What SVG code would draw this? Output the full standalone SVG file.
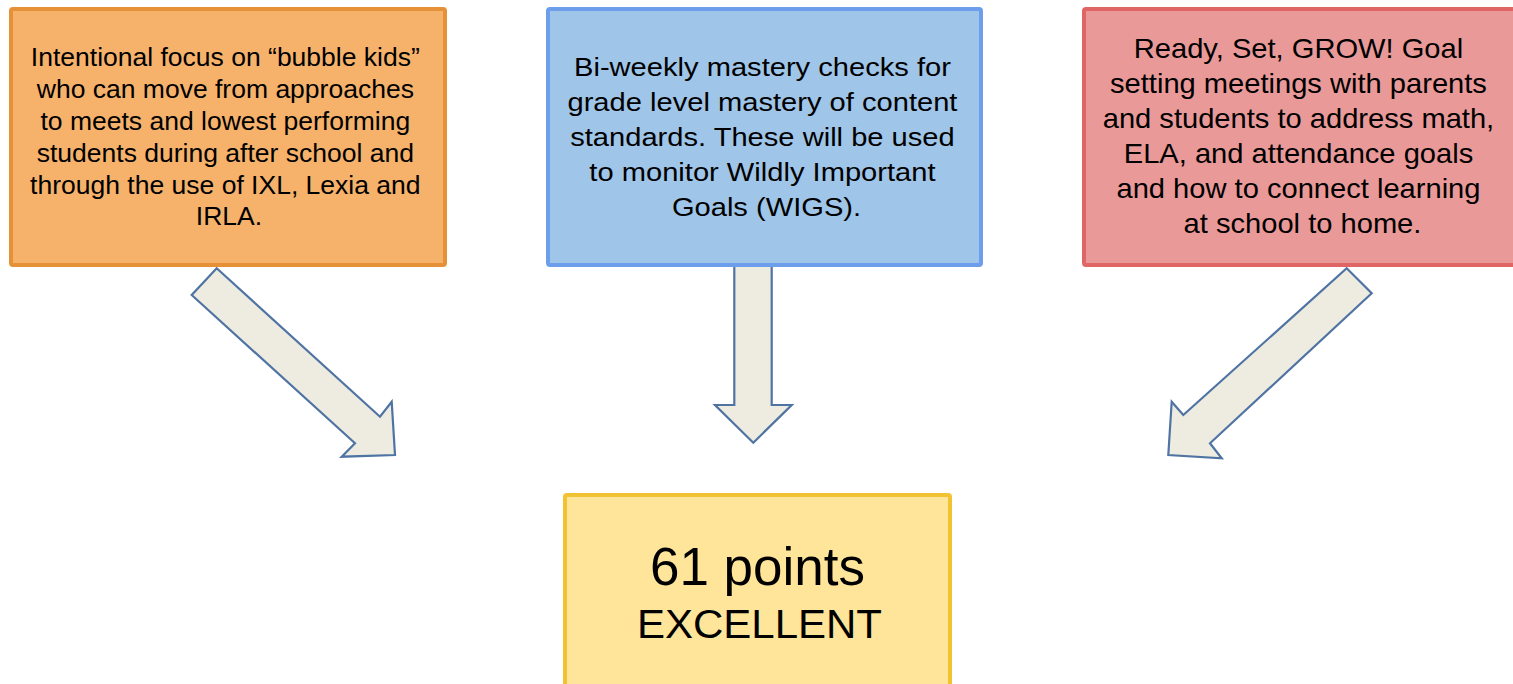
<svg xmlns="http://www.w3.org/2000/svg" width="1513" height="684" viewBox="0 0 1513 684">
<style>
.box{stroke-width:4}
.t{font-family:"Liberation Sans",Arial,sans-serif;fill:#000;text-anchor:middle}
.arrow{fill:#eeece1;stroke:#4f74a3;stroke-width:2.2;stroke-linejoin:miter}
</style>
<rect width="1513" height="684" fill="#ffffff"/>
<g id="connectors">
<polygon class="arrow" points="216.7,268.3 380,416.7 391.7,401.7 395,455 341.7,456.7 355,443.3 191.7,295"/>
<polygon class="arrow" points="734.3,266 771.7,266 771.7,405 791.7,405 753.3,442.7 715,405 734.3,405"/>
<polygon class="arrow" points="1346.7,268.3 1371.7,293.3 1210,443.3 1221.7,458.3 1168.3,455 1171.7,401.7 1183.3,415"/>
</g>
<g id="box1">
<rect class="box" x="11" y="9" width="434" height="256" rx="2" fill="#f6b26b" stroke="#e69138"/>
<g transform="translate(229,0) scale(1.04,1)">
<text class="t" font-size="25.5">
<tspan x="0" y="66.5">Intentional focus on “bubble kids”</tspan>
<tspan x="0" y="98.3">who can move from approaches</tspan>
<tspan x="0" y="130.1">to meets and lowest performing</tspan>
<tspan x="0" y="161.9">students during after school and</tspan>
<tspan x="0" y="193.7">through the use of IXL, Lexia and</tspan>
<tspan x="0" y="225.5">IRLA.</tspan>
</text>
</g>
</g>
<g id="box2">
<rect class="box" x="548" y="9" width="433" height="256" rx="2" fill="#9fc5e8" stroke="#6d9eeb"/>
<g transform="translate(766.5,0) scale(1.12,1)">
<text class="t" font-size="26">
<tspan x="0" y="75.7">Bi-weekly mastery checks for</tspan>
<tspan x="0" y="110.9">grade level mastery of content</tspan>
<tspan x="0" y="146.1">standards. These will be used</tspan>
<tspan x="0" y="181.3">to monitor Wildly Important</tspan>
<tspan x="0" y="216.5">Goals (WIGS).</tspan>
</text>
</g>
</g>
<g id="box3">
<rect class="box" x="1084" y="9" width="432" height="256" rx="2" fill="#ea9999" stroke="#e06666"/>
<g transform="translate(1302.5,0) scale(1.04,1)">
<text class="t" font-size="28">
<tspan x="0" y="58.3">Ready, Set, GROW! Goal</tspan>
<tspan x="0" y="93.3">setting meetings with parents</tspan>
<tspan x="0" y="128.3">and students to address math,</tspan>
<tspan x="0" y="163.3">ELA, and attendance goals</tspan>
<tspan x="0" y="198.3">and how to connect learning</tspan>
<tspan x="0" y="233.3">at school to home.</tspan>
</text>
</g>
</g>
<g id="result">
<rect class="box" x="565" y="495" width="385" height="200" rx="2" fill="#ffe599" stroke="#f1c232"/>
<text class="t" x="757.5" y="585" font-size="53" fill="#1a1a1a">61 points</text>
<g transform="translate(759.5,0) scale(1.05,1)">
<text class="t" x="0" y="638.3" font-size="40" fill="#1a1a1a">EXCELLENT</text>
</g>
</g>
</svg>
